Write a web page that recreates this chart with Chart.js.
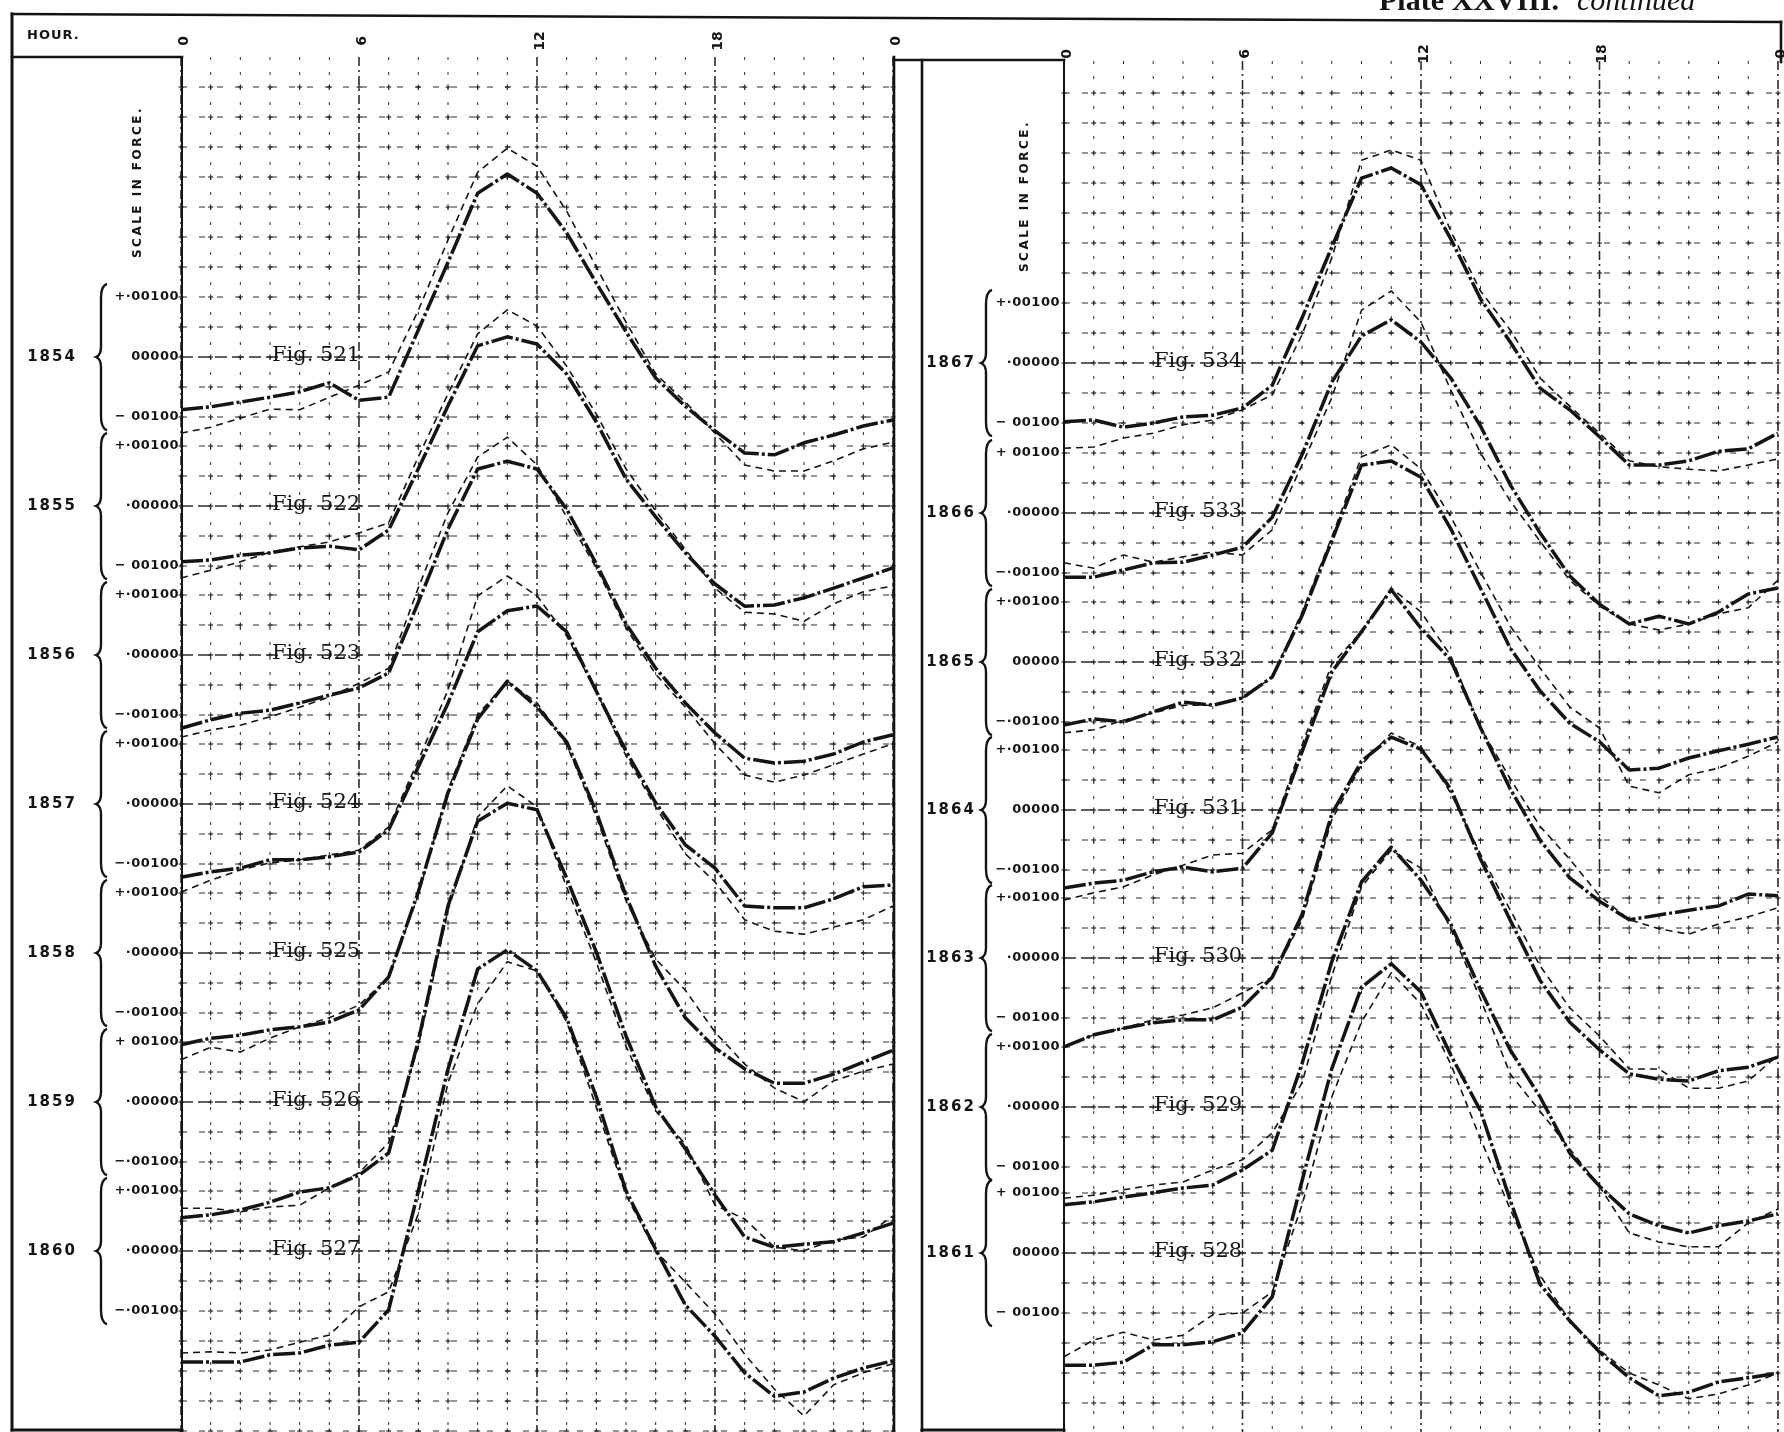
<!DOCTYPE html>
<html>
<head>
<meta charset="utf-8">
<title>Plate XXVIII. continued</title>
<script src="https://cdn.jsdelivr.net/npm/chart.js@4.4.0/dist/chart.umd.min.js"></script>
<style>
  html, body { margin: 0; padding: 0; background: #fff; }
  #plate { position: absolute; left: 0; top: 0; }
</style>
</head>
<body>
<canvas id="plate" width="1784" height="1432"></canvas>
<script>
// hourly readings, in units of 0.00001 of force, each relative to its own zero line
const HOURS = [0, 1, 2, 3, 4, 5, 6, 7, 8, 9, 10, 11, 12, 13, 14, 15, 16, 17, 18, 19, 20, 21, 22, 23, 24];
const HOUR_TICKS = [0, 6, 12, 18, 24];
const HOUR_TICK_LABELS = ['0', '6', '12', '18', '0'];
const SCALE_VALUES = [100, 0, -100];

const LEFT_YEARS = ['1854', '1855', '1856', '1857', '1858', '1859', '1860'];
const LEFT_FIGS = ['Fig. 521', 'Fig. 522', 'Fig. 523', 'Fig. 524', 'Fig. 525', 'Fig. 526', 'Fig. 527'];
const LEFT_SCALE_LABELS = [
  ['+·00100', '00000', '− 00100'],
  ['+·00100', '·00000', '− 00100'],
  ['+·00100', '·00000', '−·00100'],
  ['+·00100', '·00000', '−·00100'],
  ['+·00100', '·00000', '−·00100'],
  ['+ 00100', '·00000', '−·00100'],
  ['+·00100', '·00000', '−·00100']
];

const RIGHT_YEARS = ['1867', '1866', '1865', '1864', '1863', '1862', '1861'];
const RIGHT_FIGS = ['Fig. 534', 'Fig. 533', 'Fig. 532', 'Fig. 531', 'Fig. 530', 'Fig. 529', 'Fig. 528'];
const RIGHT_SCALE_LABELS = [
  ['+·00100', '·00000', '− 00100'],
  ['+ 00100', '·00000', '−·00100'],
  ['+·00100', '00000', '−·00100'],
  ['+·00100', '00000', '−·00100'],
  ['+·00100', '·00000', '− 00100'],
  ['+·00100', '·00000', '− 00100'],
  ['+ 00100', '00000', '− 00100']
];

const HEAVY_1854 = [-88, -83, -75, -67, -58, -43, -72, -67, 45, 158, 273, 305, 273, 207, 123, 42, -35, -82, -123, -160, -163, -143, -130, -115, -105];
const LIGHT_1854 = [-127, -117, -102, -87, -88, -67, -47, -25, 78, 195, 308, 348, 318, 243, 150, 58, -28, -75, -127, -180, -190, -190, -173, -153, -142];
const HEAVY_1855 = [-93, -90, -82, -78, -70, -67, -73, -40, 62, 167, 267, 282, 270, 220, 140, 45, -18, -78, -130, -167, -165, -153, -137, -120, -103];
const LIGHT_1855 = [-120, -107, -93, -77, -68, -60, -45, -28, 82, 187, 287, 327, 300, 233, 153, 62, -8, -72, -137, -177, -180, -192, -163, -143, -133];
const HEAVY_1856 = [-122, -108, -97, -92, -80, -67, -55, -30, 88, 210, 310, 323, 310, 243, 152, 52, -22, -80, -130, -172, -180, -177, -165, -145, -133];
const LIGHT_1856 = [-137, -125, -117, -103, -87, -70, -47, -22, 112, 237, 330, 363, 317, 230, 145, 45, -32, -87, -148, -200, -212, -200, -183, -165, -148];
const HEAVY_1857 = [-122, -113, -107, -93, -93, -88, -80, -43, 62, 168, 287, 322, 330, 287, 188, 88, 2, -68, -107, -170, -173, -173, -158, -138, -135];
const LIGHT_1857 = [-147, -127, -110, -98, -93, -85, -77, -38, 73, 190, 347, 380, 347, 280, 188, 80, -5, -83, -130, -193, -212, -217, -205, -193, -170];
const HEAVY_1858 = [-153, -142, -137, -128, -123, -115, -95, -40, 102, 267, 390, 453, 410, 352, 235, 95, -22, -108, -158, -193, -217, -217, -202, -182, -162];
const LIGHT_1858 = [-178, -157, -165, -142, -123, -108, -87, -40, 97, 272, 397, 453, 417, 347, 227, 87, -10, -62, -132, -185, -225, -248, -213, -197, -185];
const HEAVY_1859 = [-193, -188, -180, -167, -150, -143, -122, -85, 102, 327, 468, 498, 487, 373, 250, 110, -8, -78, -155, -225, -242, -237, -233, -218, -202];
const LIGHT_1859 = [-177, -177, -183, -175, -172, -143, -118, -68, 93, 320, 475, 527, 492, 358, 233, 93, -15, -70, -172, -195, -242, -248, -230, -225, -190];
const HEAVY_1860 = [-185, -185, -185, -173, -170, -157, -152, -98, 100, 303, 470, 502, 467, 388, 257, 100, 3, -90, -142, -203, -242, -235, -212, -195, -183];
const LIGHT_1860 = [-170, -168, -170, -165, -152, -140, -93, -68, 62, 280, 412, 482, 467, 382, 240, 93, 0, -52, -105, -172, -230, -275, -223, -203, -188];

const HEAVY_1867 = [-98, -95, -107, -100, -90, -87, -75, -37, 75, 193, 308, 325, 297, 207, 107, 35, -42, -78, -123, -170, -170, -163, -147, -143, -117];
const LIGHT_1867 = [-142, -140, -125, -117, -103, -95, -78, -53, 47, 175, 338, 355, 338, 220, 120, 55, -25, -72, -117, -163, -173, -177, -180, -170, -160];
const HEAVY_1866 = [-107, -107, -95, -83, -82, -70, -57, -7, 97, 218, 295, 322, 285, 225, 145, 47, -33, -105, -152, -185, -172, -185, -165, -135, -125];
const LIGHT_1866 = [-83, -92, -70, -82, -73, -65, -70, -28, 80, 192, 338, 370, 318, 205, 100, 20, -47, -112, -155, -185, -195, -185, -168, -158, -112];
const HEAVY_1865 = [-105, -95, -100, -83, -67, -72, -60, -25, 77, 202, 328, 335, 308, 222, 123, 23, -48, -102, -133, -180, -177, -160, -148, -137, -125];
const LIGHT_1865 = [-118, -113, -97, -85, -72, -72, -60, -25, 83, 208, 342, 362, 322, 242, 150, 60, -10, -75, -110, -207, -218, -188, -177, -157, -133];
const HEAVY_1864 = [-130, -122, -117, -103, -95, -103, -97, -38, 97, 230, 297, 367, 303, 250, 137, 35, -50, -113, -152, -183, -175, -167, -160, -140, -143];
const LIGHT_1864 = [-150, -138, -128, -108, -92, -75, -72, -33, 108, 243, 297, 370, 330, 257, 137, 52, -27, -82, -143, -183, -198, -207, -190, -178, -163];
const HEAVY_1863 = [-148, -128, -117, -108, -103, -103, -82, -32, 72, 240, 328, 368, 348, 282, 165, 63, -37, -107, -153, -193, -202, -205, -188, -182, -165];
const LIGHT_1863 = [-148, -128, -117, -103, -95, -83, -58, -32, 63, 230, 322, 375, 352, 275, 173, 80, -13, -83, -130, -185, -185, -217, -217, -205, -162];
const HEAVY_1862 = [-163, -158, -150, -143, -135, -130, -105, -72, 72, 242, 375, 433, 378, 305, 195, 95, 17, -77, -132, -178, -198, -210, -198, -190, -178];
const LIGHT_1862 = [-152, -147, -138, -130, -125, -105, -88, -43, 40, 218, 367, 428, 398, 297, 180, 55, -7, -70, -132, -210, -225, -233, -233, -193, -170];
const HEAVY_1861 = [-187, -187, -182, -153, -153, -148, -133, -73, 120, 307, 443, 482, 435, 330, 237, 88, -52, -113, -165, -208, -238, -232, -215, -208, -200];
const LIGHT_1861 = [-173, -145, -132, -145, -137, -103, -100, -65, 80, 260, 385, 467, 415, 315, 190, 73, -37, -113, -162, -200, -220, -243, -235, -220, -200];

const W = 1784, H = 1432;
const PX_PER_UNIT = 0.6; // ·00100 spans 60px on the plate
const INK = '#141414';

const panels = [
  {
    key: 'L', x0: 181, x24: 893, top: 57, hourLabelY: 41,
    zeros: [357, 506, 655, 804, 953, 1102, 1251],
    years: LEFT_YEARS, figs: LEFT_FIGS, labels: LEFT_SCALE_LABELS,
    heavy: [HEAVY_1854, HEAVY_1855, HEAVY_1856, HEAVY_1857, HEAVY_1858, HEAVY_1859, HEAVY_1860],
    light: [LIGHT_1854, LIGHT_1855, LIGHT_1856, LIGHT_1857, LIGHT_1858, LIGHT_1859, LIGHT_1860],
    yearX: 52, braceX: 101, labelRight: 179, figX: 272, scaleX: 138, scaleY: 182
  },
  {
    key: 'R', x0: 1064, x24: 1778, top: 61, hourLabelY: 54,
    zeros: [363, 513, 662, 810, 958, 1107, 1253],
    years: RIGHT_YEARS, figs: RIGHT_FIGS, labels: RIGHT_SCALE_LABELS,
    heavy: [HEAVY_1867, HEAVY_1866, HEAVY_1865, HEAVY_1864, HEAVY_1863, HEAVY_1862, HEAVY_1861],
    light: [LIGHT_1867, LIGHT_1866, LIGHT_1865, LIGHT_1864, LIGHT_1863, LIGHT_1862, LIGHT_1861],
    yearX: 951, braceX: 986, labelRight: 1060, figX: 1154, scaleX: 1025, scaleY: 196
  }
];

// one x scale per panel and one y scale per figure, sized so the plate layout falls out of them
const scales = {};
panels.forEach(p => {
  const span = 24 * W / (p.x24 - p.x0);
  const xmin = -p.x0 * span / W;
  scales['x' + p.key] = { type: 'linear', display: false, bounds: 'data', min: xmin, max: xmin + span };
  p.zeros.forEach((z, i) => {
    const max = z / PX_PER_UNIT;
    scales['y' + p.key + i] = { type: 'linear', display: false, bounds: 'data', min: max - H / PX_PER_UNIT, max: max };
  });
});

function curve(values, p, i, heavy) {
  return {
    data: values.map((v, h) => ({ x: HOURS[h], y: v })),
    xAxisID: 'x' + p.key,
    yAxisID: 'y' + p.key + i,
    borderColor: INK,
    borderWidth: heavy ? 3.5 : 1.6,
    borderDash: heavy ? [22, 3, 3, 3] : [7, 5],
    borderJoinStyle: 'round',
    pointRadius: 0,
    tension: 0,
    fill: false
  };
}

const datasets = [];
panels.forEach(p => {
  p.years.forEach((yr, i) => {
    datasets.push(curve(p.light[i], p, i, false));
    datasets.push(curve(p.heavy[i], p, i, true));
  });
});

function seg(ctx, x1, y1, x2, y2) {
  ctx.beginPath();
  ctx.moveTo(x1, y1);
  ctx.lineTo(x2, y2);
  ctx.stroke();
}

function drawBrace(ctx, x, top, bottom) {
  const mid = (top + bottom) / 2;
  ctx.beginPath();
  ctx.moveTo(x + 6, top);
  ctx.quadraticCurveTo(x, top + 2, x, top + 14);
  ctx.lineTo(x, mid - 10);
  ctx.quadraticCurveTo(x, mid - 2, x - 5, mid);
  ctx.quadraticCurveTo(x, mid + 2, x, mid + 10);
  ctx.lineTo(x, bottom - 14);
  ctx.quadraticCurveTo(x, bottom - 2, x + 6, bottom);
  ctx.stroke();
}

function gridValues(chart, p, i) {
  const ys = chart.scales['y' + p.key + i];
  const vals = [100, 50, 0, -50, -100];
  if (i === 0) {
    for (let v = 150; ys.getPixelForValue(v) > p.top + 6; v += 50) vals.push(v);
  }
  if (i === p.zeros.length - 1) {
    for (let v = -150; ys.getPixelForValue(v) < H; v -= 50) vals.push(v);
  }
  return vals;
}

function drawGrid(chart, p) {
  const ctx = chart.ctx;
  const xs = chart.scales['x' + p.key];
  const left = xs.getPixelForValue(0), right = xs.getPixelForValue(24);
  ctx.save();
  ctx.strokeStyle = '#2b2b2b';
  HOURS.forEach(h => {
    const x = xs.getPixelForValue(h);
    const major = h % 6 === 0;
    ctx.lineWidth = major ? 1.6 : 1;
    ctx.setLineDash(major ? [9, 4, 2, 4] : [3, 12]);
    seg(ctx, x, p.top, x, H);
  });
  const rows = [];
  p.zeros.forEach((z, i) => {
    const ys = chart.scales['y' + p.key + i];
    gridValues(chart, p, i).forEach(v => {
      const y = ys.getPixelForValue(v);
      rows.push(y);
      ctx.lineWidth = v === 0 ? 1.5 : 1;
      ctx.setLineDash(v === 0 ? [12, 5] : [6, 12]);
      seg(ctx, left, y, right, y);
    });
  });
  // small crosses where the ruling meets
  ctx.setLineDash([]);
  ctx.lineWidth = 1.2;
  HOURS.forEach(h => {
    const x = xs.getPixelForValue(h);
    rows.forEach(y => {
      seg(ctx, x - 2.5, y, x + 2.5, y);
      seg(ctx, x, y - 2.5, x, y + 2.5);
    });
  });
  // figure numbers sit on the zero lines
  ctx.fillStyle = INK;
  ctx.font = '21px "DejaVu Serif"';
  ctx.textAlign = 'left';
  ctx.textBaseline = 'alphabetic';
  p.figs.forEach((f, i) => {
    const ys = chart.scales['y' + p.key + i];
    ctx.fillText(f, p.figX, ys.getPixelForValue(0) + 4);
  });
  ctx.restore();
}

function drawLabels(chart, p) {
  const ctx = chart.ctx;
  const xs = chart.scales['x' + p.key];
  ctx.save();
  ctx.fillStyle = INK;
  ctx.strokeStyle = INK;

  // hour numbers along the head, turned on their side
  ctx.font = 'bold 14px "DejaVu Sans"';
  ctx.textAlign = 'center';
  ctx.textBaseline = 'middle';
  HOUR_TICKS.forEach((h, k) => {
    ctx.save();
    ctx.translate(xs.getPixelForValue(h) + 3, p.hourLabelY);
    ctx.rotate(-Math.PI / 2);
    ctx.fillText(HOUR_TICK_LABELS[k], 0, 0);
    ctx.restore();
  });

  ctx.save();
  ctx.translate(p.scaleX, p.scaleY);
  ctx.rotate(-Math.PI / 2);
  ctx.font = 'bold 12px "DejaVu Sans"';
  ctx.letterSpacing = '2.5px';
  ctx.fillText('SCALE IN FORCE.', 0, 0);
  ctx.restore();

  p.years.forEach((yr, i) => {
    const ys = chart.scales['y' + p.key + i];
    const zeroY = ys.getPixelForValue(0);

    ctx.font = 'bold 15px "DejaVu Sans"';
    ctx.letterSpacing = '2px';
    ctx.textAlign = 'center';
    ctx.fillText(yr, p.yearX, zeroY);

    ctx.letterSpacing = '0.5px';
    ctx.font = 'bold 13px "DejaVu Sans"';
    ctx.textAlign = 'right';
    SCALE_VALUES.forEach((v, k) => {
      ctx.fillText(p.labels[i][k], p.labelRight, ys.getPixelForValue(v));
    });

    ctx.lineWidth = 2.4;
    ctx.setLineDash([]);
    drawBrace(ctx, p.braceX, ys.getPixelForValue(122), ys.getPixelForValue(-122));
  });
  ctx.restore();
}

function drawFrame(ctx) {
  ctx.save();
  ctx.strokeStyle = INK;
  ctx.setLineDash([]);
  ctx.lineCap = 'square';
  ctx.lineWidth = 2.6;
  seg(ctx, 12, 14, 1781, 22);
  seg(ctx, 1781, 22, 1781, 62);
  ctx.lineWidth = 3;
  seg(ctx, 12, 14, 12, 1430);
  seg(ctx, 12, 1430, 182, 1430);
  seg(ctx, 922, 1430, 1064, 1430);
  ctx.lineWidth = 2.6;
  seg(ctx, 12, 57, 182, 57);
  seg(ctx, 894, 60, 1064, 60);
  seg(ctx, 894, 57, 894, H);
  seg(ctx, 922, 60, 922, H);
  ctx.lineWidth = 2;
  seg(ctx, 182, 57, 182, H);
  seg(ctx, 1064, 60, 1064, H);

  ctx.fillStyle = INK;
  ctx.font = 'bold 13px "DejaVu Sans"';
  ctx.letterSpacing = '1px';
  ctx.textAlign = 'left';
  ctx.textBaseline = 'middle';
  ctx.fillText('HOUR.', 27, 36);

  // plate heading, cut off by the top of the page
  ctx.textBaseline = 'alphabetic';
  ctx.letterSpacing = '0px';
  ctx.font = 'bold 30px "Liberation Serif"';
  ctx.fillText('Plate XXVIII.', 1379, 10);
  ctx.font = 'italic 30px "Liberation Serif"';
  ctx.fillText('continued', 1577, 10);
  ctx.restore();
}

const platePlugin = {
  id: 'plate',
  beforeDraw(chart) {
    const ctx = chart.ctx;
    ctx.save();
    ctx.fillStyle = '#fff';
    ctx.fillRect(0, 0, W, H);
    ctx.restore();
  },
  beforeDatasetsDraw(chart) {
    panels.forEach(p => drawGrid(chart, p));
  },
  afterDatasetsDraw(chart) {
    drawFrame(chart.ctx);
    panels.forEach(p => drawLabels(chart, p));
  }
};

new Chart(document.getElementById('plate').getContext('2d'), {
  type: 'line',
  data: { datasets: datasets },
  options: {
    responsive: false,
    devicePixelRatio: 1,
    animation: false,
    layout: { padding: 0 },
    scales: scales,
    plugins: {
      legend: { display: false },
      tooltip: { enabled: false },
      title: { display: false }
    }
  },
  plugins: [platePlugin]
});
</script>
</body>
</html>
